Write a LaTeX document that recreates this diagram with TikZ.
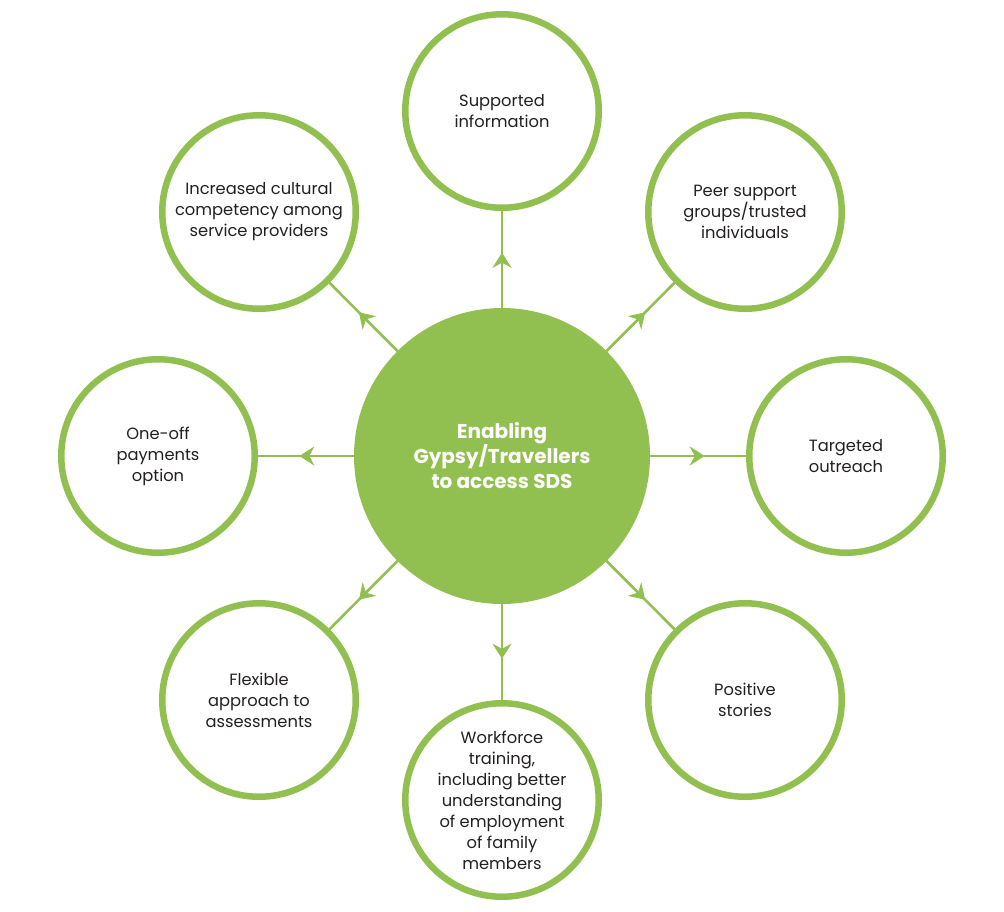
\documentclass[tikz,border=0pt]{standalone}
\usepackage{fontspec}
\setmainfont{Poppins}
\usetikzlibrary{arrows.meta,decorations.markings}
\definecolor{gr}{HTML}{92C050}
\definecolor{tx}{HTML}{231F20}
\tikzset{
  outer/.style={circle,draw=gr,line width=6.5pt,minimum size=193.5pt,inner sep=0pt,
    align=center,text=tx,font=\fontsize{16.3}{21}\selectfont},
  hub/.style={circle,fill=gr,minimum size=296pt,inner sep=0pt,outer sep=0pt,
    align=center,text=white,font=\fontsize{20}{25}\selectfont\bfseries},
  conn/.style={draw=gr,line width=2.6pt,
    postaction={decorate},
    decoration={markings,mark=at position 0.57 with {\arrow{Stealth[length=15pt,width=19pt,inset=5pt,fill=gr,color=gr]}}}}
}
\begin{document}
\begin{tikzpicture}[x=1pt,y=-1pt]
\useasboundingbox (0,0) rectangle (1004,911);
\node[hub] (c) at (502,456) {Enabling\\Gypsy/Travellers\\to access SDS};
\node[outer] (n) at (502,111) {Supported\\information};
\node[outer] (ne) at (745,212) {Peer support\\groups/trusted\\individuals};
\node[outer] (e) at (846,456) {Targeted\\outreach};
\node[outer] (se) at (745,700) {Positive\\stories};
\node[outer] (s) at (502,800) {Workforce\\training,\\including better\\understanding\\of employment\\of family\\members};
\node[outer] (sw) at (259,700) {Flexible\\approach to\\assessments};
\node[outer] (w) at (158,456) {One-off\\payments\\option};
\node[outer] (nw) at (259,212) {Increased cultural\\competency among\\service providers};
\foreach \t in {n,ne,e,se,s,sw,w,nw}{
  \draw[conn] (c) -- (\t);
}
\end{tikzpicture}
\end{document}
